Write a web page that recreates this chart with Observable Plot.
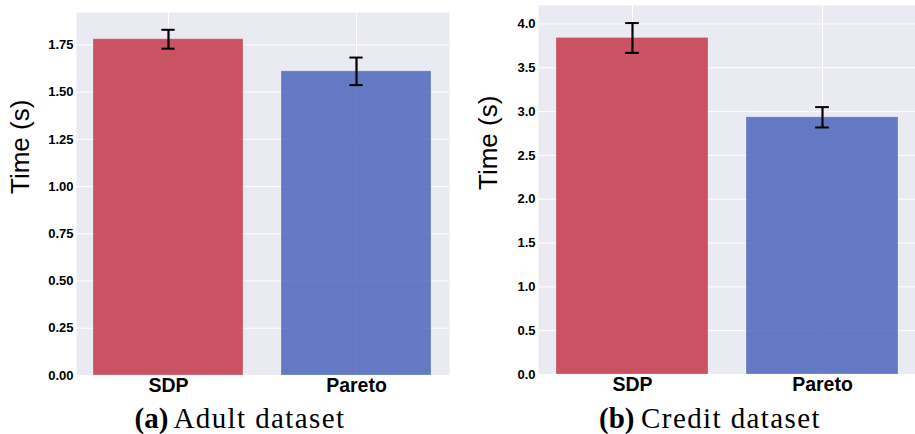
<!DOCTYPE html>
<html>
<head>
<meta charset="utf-8">
<script src="https://cdn.jsdelivr.net/npm/d3@7"></script>
<script src="https://cdn.jsdelivr.net/npm/@observablehq/plot@0.6"></script>
<style>
  html, body { margin: 0; padding: 0; background: #ffffff; }
  #fig { position: relative; width: 915px; height: 434px; overflow: hidden; }
  #fig svg { position: absolute; top: 0; }
  .cap { position: absolute; top: 404px; font-family: "Liberation Serif", "Times New Roman", serif; font-size: 29px; line-height: 1; color: #000; white-space: nowrap; text-align: center; letter-spacing: 1.4px; }
  .cap b { font-weight: bold; letter-spacing: 0; margin-right: -2px; }
</style>
</head>
<body>
<div id="fig"></div>
<script>
// ---- data ----
const categories = ["SDP", "Pareto"];
const barColors = ["#c3374a", "#4c65bb"];
const yLabel = "Time (s)";

const adultTime = [1.78, 1.61];
const adultErr = [0.05, 0.073];
const adultTicks = [0, 0.25, 0.5, 0.75, 1.0, 1.25, 1.5, 1.75];
const adultCaptionTag = "(a)";
const adultCaptionText = "Adult dataset";

const creditTime = [3.84, 2.935];
const creditErr = [0.17, 0.116];
const creditTicks = [0, 0.5, 1.0, 1.5, 2.0, 2.5, 3.0, 3.5, 4.0];
const creditCaptionTag = "(b)";
const creditCaptionText = "Credit dataset";

function panel(o) {
  const data = categories.map((c, i) => ({cat: c, t: o.times[i], e: o.errs[i]}));
  const yMax = d3.max(data, d => d.t + d.e) * 1.05;
  const step = (o.width - o.marginLeft - o.marginRight) / 1.98;
  const capInset = (0.8 * step - 14) / 2;
  return Plot.plot({
    width: o.width, height: o.height,
    marginLeft: o.marginLeft, marginRight: o.marginRight,
    marginTop: o.marginTop, marginBottom: o.marginBottom,
    style: {fontFamily: "'Liberation Sans', Arial, sans-serif", color: "#000", background: "transparent", overflow: "visible"},
    x: {domain: categories, paddingInner: 0.2, paddingOuter: 0.09, label: null},
    y: {domain: [0, yMax], label: null},
    color: {domain: categories, range: barColors},
    marks: [
      Plot.frame({fill: "#EAEAF2", stroke: null}),
      Plot.gridY(o.ticks, {stroke: "#ffffff", strokeOpacity: 1, strokeWidth: 1}),
      Plot.gridX({stroke: "#ffffff", strokeOpacity: 1, strokeWidth: 1}),
      Plot.barY(data, {x: "cat", y: "t", fill: "cat", fillOpacity: 0.85, stroke: "#ffffff", strokeOpacity: 0.25, strokeWidth: 1}),
      Plot.ruleX(data, {x: "cat", y1: d => d.t - d.e, y2: d => d.t + d.e, stroke: "#000", strokeWidth: 2.2}),
      Plot.tickY(data, {x: "cat", y: d => d.t + d.e, stroke: "#000", strokeWidth: 2, insetLeft: capInset, insetRight: capInset}),
      Plot.tickY(data, {x: "cat", y: d => d.t - d.e, stroke: "#000", strokeWidth: 2, insetLeft: capInset, insetRight: capInset}),
      Plot.axisY(o.ticks, {tickFormat: o.fmt, tickSize: 0, tickPadding: 3, fontSize: 13, fontWeight: "bold", label: null}),
      Plot.axisX({tickSize: 0, tickPadding: 3, fontSize: 19.5, fontWeight: "bold", label: null}),
      Plot.text([yLabel], {frameAnchor: "left", rotate: -90, dx: o.labelDx, fontSize: 26, fontWeight: "normal"})
    ]
  });
}

const fig = document.getElementById("fig");

const svgA = panel({times: adultTime, errs: adultErr, ticks: adultTicks, fmt: d3.format(".2f"),
  width: 455, height: 400, marginLeft: 76, marginRight: 6, marginTop: 12, marginBottom: 25, labelDx: -56});
svgA.style.left = "0px";
fig.appendChild(svgA);

const svgB = panel({times: creditTime, errs: creditErr, ticks: creditTicks, fmt: d3.format(".1f"),
  width: 457, height: 399, marginLeft: 80, marginRight: 0, marginTop: 5, marginBottom: 25, labelDx: -50});
svgB.style.left = "458px";
fig.appendChild(svgB);

function caption(tag, text, center) {
  const d = document.createElement("div");
  d.className = "cap";
  const b = document.createElement("b");
  b.textContent = tag;
  d.appendChild(b);
  d.appendChild(document.createTextNode(" " + text));
  d.style.left = "0px";
  fig.appendChild(d);
  const w = d.getBoundingClientRect().width;
  d.style.left = (center - w / 2) + "px";
}
caption(adultCaptionTag, adultCaptionText, 240);
caption(creditCaptionTag, creditCaptionText, 710);
</script>
</body>
</html>
